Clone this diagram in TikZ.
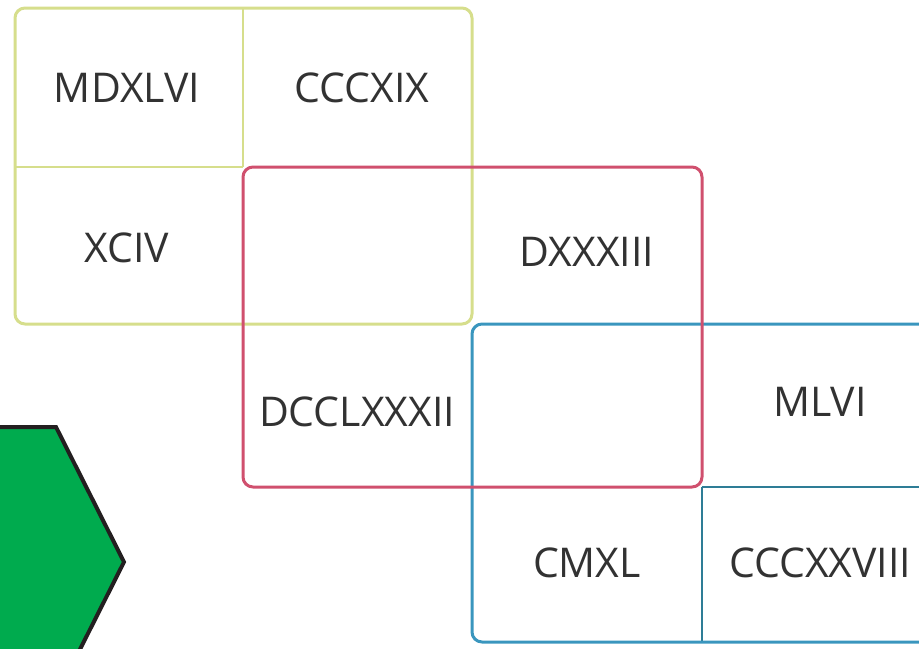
\documentclass[tikz,border=0pt]{standalone}
\usepackage{fontspec}
\setmainfont{Open Sans}
\definecolor{boxyellow}{RGB}{214,222,140}
\definecolor{boxred}{RGB}{208,80,110}
\definecolor{boxblue}{RGB}{58,150,190}
\definecolor{gridblue}{RGB}{46,125,150}
\definecolor{hexgreen}{RGB}{0,171,78}
\definecolor{hexline}{RGB}{35,31,32}
\definecolor{numtext}{RGB}{50,50,50}
\tikzset{
  numeral/.style={text=numtext,font=\fontsize{20.5}{24}\selectfont,inner sep=0pt},
  outerbox/.style={line width=1.5pt,rounded corners=5pt},
  innerline/.style={line width=1pt}
}

\begin{document}
\begin{tikzpicture}[x=0.5pt,y=-0.5pt]
      \useasboundingbox (0,0) rectangle (919,648);
      \clip (0,0) rectangle (919,648);

      % green hexagon, mostly off the page
      \fill[hexgreen,draw=hexline,line width=2pt,line join=miter]
        (-60,427) -- (56,427) -- (124,562) -- (56,697) -- (-60,697) -- (-128,562) -- cycle;

      % yellow box
      \draw[boxyellow,innerline] (243,8) -- (243,167);
      \draw[boxyellow,innerline] (15,167) -- (243,167);
      \draw[boxyellow,outerbox] (15,8) rectangle (472,324);

      % blue box
      \draw[gridblue,innerline] (702,487) -- (702,642);
      \draw[gridblue,innerline] (702,487) -- (935,487);
      \draw[boxblue,outerbox] (472,324) rectangle (935,642);

      % red box
      \draw[boxred,outerbox] (243,167) rectangle (702,487);

      \node[numeral] (mdxlvi) at (127,88) {MDXLVI};
      \node[numeral] (cccxix) at (362,88) {CCCXIX};
      \node[numeral] (xciv) at (127,248) {XCIV};
      \node[numeral] (dxxxiii) at (587,252) {DXXXIII};
      \node[numeral] (dcclxxxii) at (357,412) {DCCLXXXII};
      \node[numeral] (mlvi) at (820,402) {MLVI};
      \node[numeral] (cmxl) at (587,563) {CMXL};
      \node[numeral] (cccxxviii) at (820,563) {CCCXXVIII};

\end{tikzpicture}
\end{document}
